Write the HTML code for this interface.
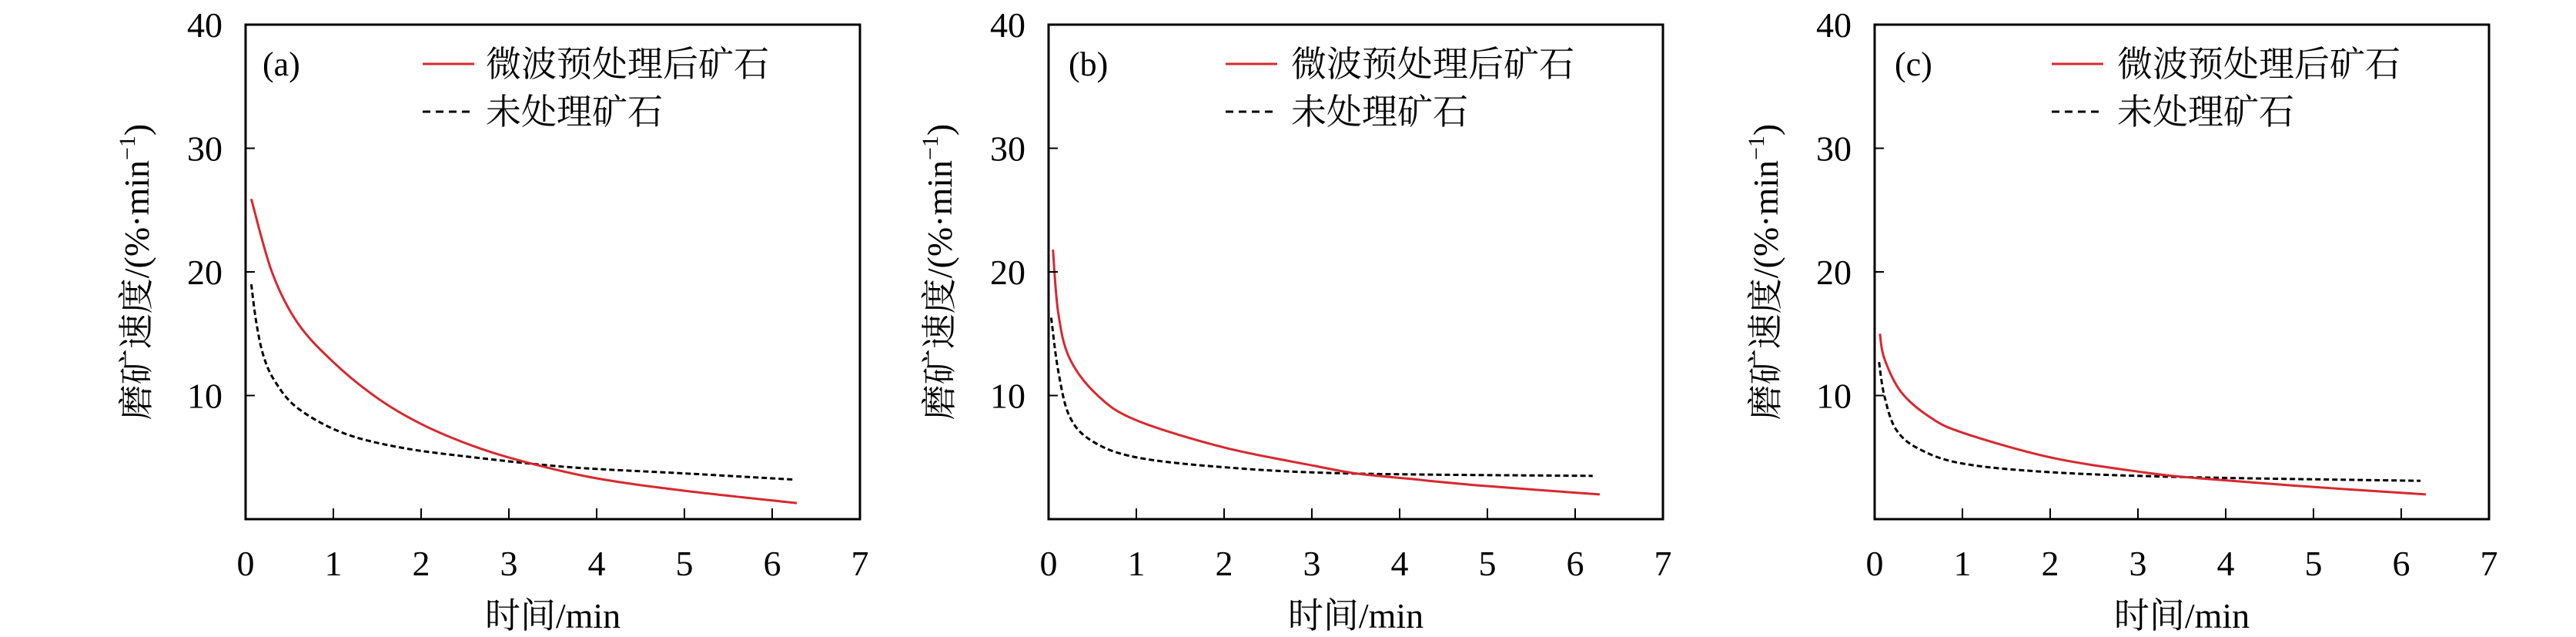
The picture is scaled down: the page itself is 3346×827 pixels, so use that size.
<!DOCTYPE html>
<html><head><meta charset="utf-8"><style>
html,body{margin:0;padding:0;background:#fff;}
svg{display:block;}
text{font-family:"Liberation Serif","Noto Serif CJK SC","Noto Sans CJK SC",serif;fill:#000;}
</style></head><body>
<svg id="s" width="3346" height="827" viewBox="0 0 3346 827" xmlns="http://www.w3.org/2000/svg">
<g id="p0"></g><g id="p1"></g><g id="p2"></g>
<g font-size="46">
<text x="341" y="98" font-size="44">(a)</text>
<text x="1388" y="98" font-size="44">(b)</text>
<text x="2461" y="98" font-size="44">(c)</text>
</g>
<g font-size="46">
<text x="631" y="99">微波预处理后矿石</text><text x="631" y="161">未处理矿石</text>
<text x="1677" y="99">微波预处理后矿石</text><text x="1677" y="161">未处理矿石</text>
<text x="2750" y="99">微波预处理后矿石</text><text x="2750" y="161">未处理矿石</text>
</g>
<g font-size="46" text-anchor="middle">
<text x="718" y="815">时间/min</text>
<text x="1761" y="815">时间/min</text>
<text x="2834" y="815">时间/min</text>
</g>
<g font-size="46" text-anchor="middle">
<text transform="translate(193,353) rotate(-90)">磨矿速度/(%·min<tspan font-size="30" dy="-18">−1</tspan><tspan dy="18">)</tspan></text>
<text transform="translate(1236,353) rotate(-90)">磨矿速度/(%·min<tspan font-size="30" dy="-18">−1</tspan><tspan dy="18">)</tspan></text>
<text transform="translate(2309,353) rotate(-90)">磨矿速度/(%·min<tspan font-size="30" dy="-18">−1</tspan><tspan dy="18">)</tspan></text>
</g>
</svg>
<script>
var NS="http://www.w3.org/2000/svg";
var panels=[
{L:319,R:1117,
 red:[[0.065,25.9],[0.3,20],[0.59,15.9],[1,12.7],[1.5,9.8],[2,7.7],[2.6,5.9],[3.2,4.6],[4,3.3],[5,2.3],[6.28,1.3]],
 blk:[[0.065,19],[0.12,16],[0.2,13.3],[0.33,11.2],[0.59,9],[1.1,7],[1.76,5.8],[2.6,5],[3.7,4.2],[5,3.7],[6.25,3.2]]},
{L:1362,R:2160,
 red:[[0.05,21.8],[0.11,16.7],[0.24,13],[0.56,10],[1.0,8],[2.0,5.8],[3.04,4.3],[3.5,3.7],[4.06,3.3],[4.95,2.7],[6.28,2.0]],
 blk:[[0.03,16.3],[0.11,12],[0.24,8.3],[0.5,6.3],[1,5],[2,4.2],[3.4,3.7],[6.2,3.5]]},
{L:2435,R:3233,
 red:[[0.06,15],[0.11,13],[0.3,10.3],[0.62,8.3],[1.0,7],[2.0,5],[3.05,3.8],[3.7,3.3],[4.8,2.7],[6.28,2.0]],
 blk:[[0.05,12.7],[0.11,10],[0.24,7.3],[0.5,5.7],[1.0,4.5],[2,3.8],[3.55,3.4],[6.22,3.1]]}
];
var T=32,B=674;
function el(n,a,p){var e=document.createElementNS(NS,n);for(var k in a)e.setAttribute(k,a[k]);if(a.text){e.textContent=a.text;e.removeAttribute('text');}p.appendChild(e);return e;}
function path(pts,X,Y){var P=pts.map(function(p){return[X(p[0]),Y(p[1])]});var d="M"+P[0][0]+","+P[0][1];
 for(var i=0;i<P.length-1;i++){var p0=P[i-1]||P[i],p1=P[i],p2=P[i+1],p3=P[i+2]||p2;
  var c1=[p1[0]+(p2[0]-p0[0])/6,p1[1]+(p2[1]-p0[1])/6],c2=[p2[0]-(p3[0]-p1[0])/6,p2[1]-(p3[1]-p1[1])/6];
  d+=" C"+c1+" "+c2+" "+p2;}return d;}
panels.forEach(function(p,i){
 var g=document.getElementById("p"+i);var W=p.R-p.L;
 var X=function(t){return p.L+t*W/7},Y=function(v){return B-v*(B-T)/40};
 el("path",{d:path(p.blk,X,Y),fill:"none",stroke:"#000","stroke-width":3,"stroke-dasharray":"7,4"},g);
 el("path",{d:path(p.red,X,Y),fill:"none",stroke:"#d7282f","stroke-width":3},g);
 el("rect",{x:p.L,y:T,width:W,height:B-T,fill:"none",stroke:"#000","stroke-width":3},g);
 for(var k=1;k<7;k++)el("line",{x1:X(k),x2:X(k),y1:B,y2:B-14,stroke:"#000","stroke-width":2},g);
 for(var v=10;v<40;v+=10)el("line",{x1:p.L,x2:p.L+12,y1:Y(v),y2:Y(v),stroke:"#000","stroke-width":2},g);
 for(var k=0;k<=7;k++)el("text",{x:X(k),y:747,"text-anchor":"middle","font-size":46,text:""+k},g);
 for(var v=10;v<=40;v+=10)el("text",{x:p.L-30,y:Y(v)+16,"text-anchor":"end","font-size":46,text:""+v},g);
 el("line",{x1:p.L+230,x2:p.L+297,y1:83,y2:83,stroke:"#d7282f","stroke-width":3},g);
 el("line",{x1:p.L+230,x2:p.L+297,y1:145,y2:145,stroke:"#000","stroke-width":3,"stroke-dasharray":"10,7"},g);
});
</script>
</body></html>
